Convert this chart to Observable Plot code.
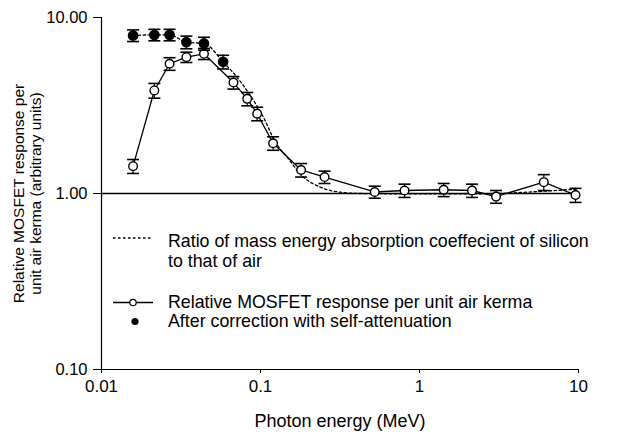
<!DOCTYPE html>
<html><head><meta charset="utf-8">
<script src="https://cdn.jsdelivr.net/npm/d3@7"></script>
<script src="https://cdn.jsdelivr.net/npm/@observablehq/plot@0.6"></script>
<style>
body{margin:0;background:#fff;}
#wrap{position:relative;width:617px;height:439px;}
#legend{position:absolute;left:0;top:0;pointer-events:none;}
#legend text{font-family:"Liberation Sans",Arial,sans-serif;fill:#000;}
</style></head><body><div id="wrap"></div>
<script>
// Relative MOSFET response per unit air kerma (open circles)
const energyOpen = [0.0158,0.0215,0.0268,0.0342,0.0441,0.0676,0.0825,0.0953,0.120,0.180,0.253,0.523,0.805,1.42,2.14,3.03,6.05,9.58];
const responseOpen = [1.43,3.85,5.46,5.95,6.22,4.27,3.45,2.84,1.93,1.36,1.24,1.02,1.04,1.05,1.04,0.96,1.16,0.98];
const errorOpen = [0.13,0.37,0.45,0.40,0.45,0.35,0.30,0.25,0.17,0.12,0.10,0.08,0.09,0.09,0.09,0.08,0.12,0.09];
// After correction with self-attenuation (filled circles)
const energyFilled = [0.0158,0.0215,0.0268,0.0342,0.0441,0.0582];
const responseFilled = [7.90,7.97,7.97,7.24,7.12,5.60];
const errorFilled = [0.6,0.6,0.6,0.6,0.6,0.5];
// Ratio of mass energy absorption coefficient Si / air (dotted)
const energyRatio = [0.0158,0.0215,0.0268,0.0342,0.0441,0.0582,0.0767,0.0904,0.1044,0.124,0.147,0.186,0.238,0.318,0.426,1,2,3,6,10];
const ratioValues = [7.90,7.97,7.97,7.24,7.12,5.60,4.20,3.38,2.71,1.96,1.61,1.24,1.086,1.017,1.0,0.995,0.995,1.0,1.03,1.06];
const xTicks = [0.01,0.1,1,10];
const yTicks = [0.1,1,10];
const xTitle = "Photon energy (MeV)";
const yTitle = "Relative MOSFET response per\nunit air kerma (arbitrary units)";
const legendLabels = ["Ratio of mass energy absorption coeffecient of silicon","to that of air","Relative MOSFET response per unit air kerma","After correction with self-attenuation"];

const openData = energyOpen.map((e,i)=>({e, v:responseOpen[i], err:errorOpen[i]}));
const filledData = energyFilled.map((e,i)=>({e, v:responseFilled[i], err:errorFilled[i]}));
const ratioData = energyRatio.map((e,i)=>({e, v:ratioValues[i]}));

const cap = {draw(ctx,size){const r=Math.sqrt(size/Math.PI);ctx.moveTo(-r,0);ctx.lineTo(r,0);}};
const font = '"Liberation Sans", Arial, sans-serif';

function errMarks(data){
  return [
    Plot.ruleX(data,{x:"e",y1:d=>d.v-d.err,y2:d=>d.v+d.err,stroke:"#000",strokeWidth:1.2}),
    Plot.dot(data,{x:"e",y:d=>d.v+d.err,symbol:cap,r:6,stroke:"#000",strokeWidth:1.6,fill:"none"}),
    Plot.dot(data,{x:"e",y:d=>d.v-d.err,symbol:cap,r:6,stroke:"#000",strokeWidth:1.6,fill:"none"})
  ];
}

const chart = Plot.plot({
  width:617, height:439,
  marginLeft:101, marginRight:39, marginTop:17, marginBottom:70,
  style:{fontFamily:font, background:"#fff", color:"#000"},
  x:{type:"log", domain:[0.01,10]},
  y:{type:"log", domain:[0.1,10]},
  marks:[
    Plot.ruleY([1],{stroke:"#000",strokeWidth:1.3}),
    Plot.ruleX([0.01],{stroke:"#000",strokeWidth:1.2}),
    Plot.ruleY([0.1],{stroke:"#000",strokeWidth:1.2}),
    Plot.line(ratioData,{x:"e",y:"v",stroke:"#000",strokeWidth:1.3,strokeDasharray:"2.5,2.5",curve:"monotone-x"}),
    Plot.line(openData,{x:"e",y:"v",stroke:"#000",strokeWidth:1.3}),
    ...errMarks(openData),
    Plot.dot(openData,{x:"e",y:"v",r:4.3,fill:"#fff",stroke:"#000",strokeWidth:1.4}),
    ...errMarks(filledData),
    Plot.dot(filledData,{x:"e",y:"v",r:4.6,fill:"#000",stroke:"#000"}),
    Plot.axisY({ticks:yTicks,tickFormat:d3.format(".2f"),tickSize:8,tickPadding:6,fontSize:16.5,label:null}),
    Plot.axisX({ticks:xTicks,tickFormat:d=>String(d),tickSize:4,tickPadding:6,fontSize:17,label:null}),
    Plot.text([xTitle],{frameAnchor:"bottom",dy:51.5,fontSize:18,lineAnchor:"middle",textAnchor:"middle"}),
    Plot.text([yTitle],{frameAnchor:"left",dx:-74,rotate:-90,fontSize:15.5,lineHeight:1.1,textAnchor:"middle",lineAnchor:"middle"})
  ]
});
const wrap = document.getElementById("wrap");
wrap.appendChild(chart);

// legend overlay
const svg = d3.select(wrap).append("svg").attr("id","legend").attr("width",617).attr("height",439);
const fs = 17.8;
svg.append("line").attr("x1",113).attr("x2",153).attr("y1",238).attr("y2",238)
  .attr("stroke","#000").attr("stroke-width",1.3).attr("stroke-dasharray","2.5,2.5");
svg.append("text").attr("x",168).attr("y",246.5).attr("font-size",fs).text(legendLabels[0]);
svg.append("text").attr("x",168).attr("y",266.5).attr("font-size",fs).text(legendLabels[1]);
svg.append("line").attr("x1",113).attr("x2",153).attr("y1",302.5).attr("y2",302.5)
  .attr("stroke","#000").attr("stroke-width",1.3);
svg.append("circle").attr("cx",133).attr("cy",302.5).attr("r",3.2).attr("fill","#fff").attr("stroke","#000").attr("stroke-width",1.2);
svg.append("text").attr("x",168).attr("y",308.3).attr("font-size",fs).text(legendLabels[2]);
svg.append("circle").attr("cx",135).attr("cy",321.5).attr("r",3.6).attr("fill","#000");
svg.append("text").attr("x",168).attr("y",326.7).attr("font-size",fs).text(legendLabels[3]);
</script></body></html>
